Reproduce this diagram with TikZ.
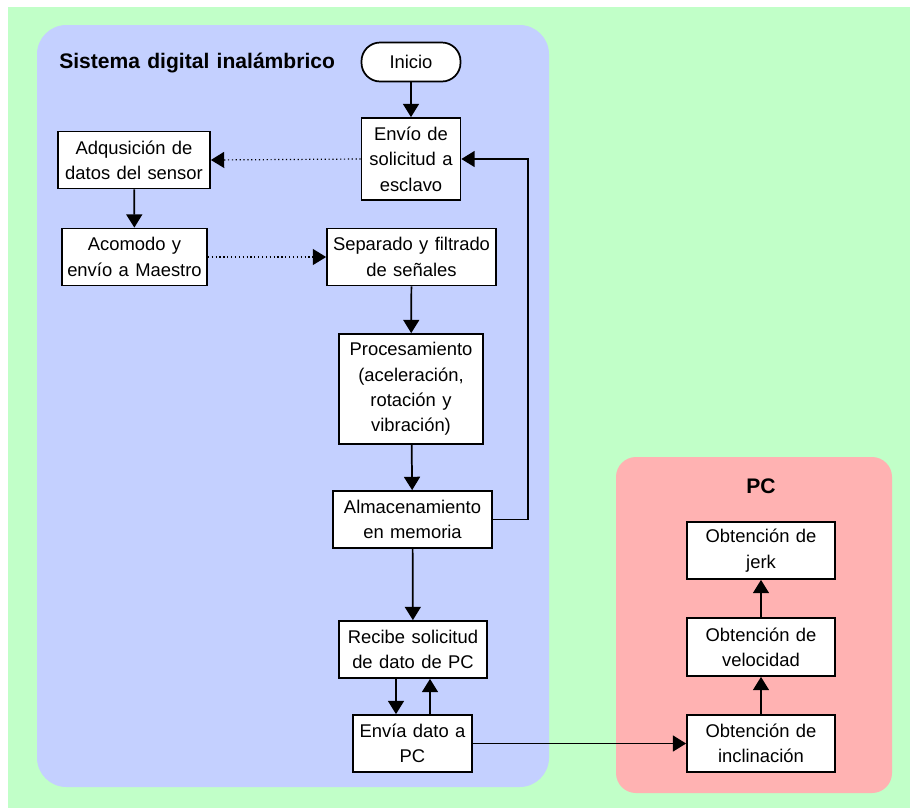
\documentclass[tikz,border=0pt]{standalone}
\usepackage{fontspec}
\setmainfont{Liberation Sans}[WordSpace={1.25,1,1}]
\usetikzlibrary{arrows.meta,calc}
\definecolor{bggreen}{RGB}{193,255,200}
\definecolor{panelblue}{RGB}{196,208,255}
\definecolor{panelred}{RGB}{255,178,178}
\tikzset{
  every node/.style={font=\fontsize{13.8pt}{19pt}\selectfont, align=center, inner sep=0pt},
  procbox/.style={draw=black, fill=white, line width=1.3pt},
  arr/.style={draw=black, line width=1.3pt, -{Triangle[length=10pt,width=12pt]}},
  dotarr/.style={draw=black, line width=0.9pt, dotted, -{Triangle[length=10pt,width=12pt]}},
  paneltitle/.style={font=\fontsize{15.8pt}{19pt}\selectfont\bfseries}
}
\begin{document}
\begin{tikzpicture}[x=0.75pt, y=-0.75pt]
  % page and backgrounds
  \useasboundingbox (0,0) rectangle (910,808);
  \fill[white] (0,0) rectangle (910,808);
  \fill[bggreen] (8,7) rectangle (910,808);
  \fill[panelblue, rounded corners=22pt] (37,25) rectangle (549,787);
  \fill[panelred, rounded corners=15pt] (616,457) rectangle (892,793);

  % panel titles
  \node[paneltitle, anchor=west] (ttlsys) at (59,63) {Sistema digital inalámbrico};
  \node[paneltitle] (ttlpc) at (761,486) {PC};

  % wireless system
  \node[procbox, rounded corners=14pt, minimum width=74.25pt, minimum height=29.25pt] (inicio) at (411,62) {Inicio};
  \node[procbox, minimum width=74.25pt, minimum height=61.5pt] (envio) at (411,159) {Envío de\\solicitud a\\esclavo};
  \node[procbox, minimum width=114pt, minimum height=42.75pt] (adq) at (134,160) {Adqusición de\\datos del sensor};
  \node[procbox, minimum width=108.75pt, minimum height=42.75pt] (acom) at (134.5,257) {Acomodo y\\envío a Maestro};
  \node[procbox, minimum width=126.75pt, minimum height=42.75pt] (sep) at (411.5,257) {Separado y filtrado\\de señales};
  \node[procbox, minimum width=108pt, minimum height=82.5pt] (proc) at (411,389) {Procesamiento\\(aceleración,\\rotación y\\vibración)};
  \node[procbox, minimum width=119.25pt, minimum height=42.75pt] (alm) at (412.5,519.5) {Almacenamiento\\en memoria};
  \node[procbox, minimum width=111pt, minimum height=42.75pt] (rec) at (413,649.5) {Recibe solicitud\\de dato de PC};
  \node[procbox, minimum width=89.25pt, minimum height=42.75pt] (envia) at (412.5,743.5) {Envía dato a\\PC};

  % PC side
  \node[procbox, minimum width=111pt, minimum height=42.75pt] (jerk) at (761,550.5) {Obtención de\\jerk};
  \node[procbox, minimum width=111pt, minimum height=43.5pt] (vel) at (761,647) {Obtención de\\velocidad};
  \node[procbox, minimum width=111pt, minimum height=42.75pt] (inc) at (761,743.5) {Obtención de\\inclinación};

  % helper coordinates for routed connectors
  \coordinate (loop) at (528,159);
  \coordinate (dn) at (396,700);
  \coordinate (up) at (430,700);

  % connectors
  \draw[arr] (inicio) -- (envio);
  \draw[dotarr] (envio.west) -- (adq.east);
  \draw[arr] (adq) -- (acom);
  \draw[dotarr] (acom.east) -- (sep.west);
  \draw[arr] (sep) -- (proc);
  \draw[arr] (proc) -- (alm);
  \draw[arr] (alm.east) -| (loop) -- (envio.east);
  \draw[arr] (alm) -- (rec);
  \draw[arr] (rec.south -| dn) -- (envia.north -| dn);
  \draw[arr] (envia.north -| up) -- (rec.south -| up);
  \draw[arr] (envia.east) -- (inc.west);
  \draw[arr] (inc) -- (vel);
  \draw[arr] (vel) -- (jerk);
\end{tikzpicture}
\end{document}
